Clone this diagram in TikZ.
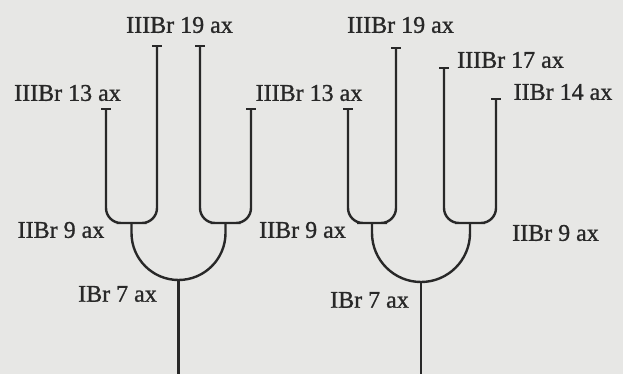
\documentclass[tikz,border=0pt]{standalone}
\usepackage{fontspec}
\setmainfont[FakeBold=1]{Liberation Serif}
\usetikzlibrary{arrows.meta}
\definecolor{paper}{RGB}{231,231,229}
\definecolor{ink}{RGB}{40,40,40}
\begin{document}
\begin{tikzpicture}[x=1pt,y=-1pt,
  branch/.style={draw=ink,line width=2.4pt,rounded corners=15pt,{Bar[width=10pt]}-{Bar[width=10pt]}},
  fork/.style={draw=ink,line width=2.4pt},
  stem/.style={draw=ink,line width=2.4pt},
  lab/.style={font=\fontsize{24}{28}\selectfont,text=ink,inner sep=0pt}]
\fill[paper] (0,0) rectangle (623,374);
\useasboundingbox (0,0) rectangle (623,374);
% left tree
\coordinate (a1) at (106,108);
\coordinate (a2) at (157,45);
\coordinate (a3) at (200,45);
\coordinate (a4) at (251,108);
\coordinate (b1) at (131.5,223);
\coordinate (b2) at (225.5,223);
\coordinate (j1) at (178.5,280);
\coordinate (r1) at (178.5,376);
\draw[branch] (a1) |- (b1) -| (a2);
\draw[branch] (a3) |- (b2) -| (a4);
\draw[fork] (b1) -- ++(0,10) arc[start angle=180, end angle=0, radius=47] -- (b2);
\draw[stem] (j1) -- (r1);
% right tree
\coordinate (c1) at (348,108);
\coordinate (c2) at (396,47);
\coordinate (c3) at (444,67);
\coordinate (c4) at (496,98);
\coordinate (d1) at (372,223);
\coordinate (d2) at (470,223);
\coordinate (j2) at (421,282);
\coordinate (r2) at (421,376);
\draw[branch] (c1) |- (d1) -| (c2);
\draw[branch] (c3) |- (d2) -| (c4);
\draw[fork] (d1) -- ++(0,10) arc[start angle=180, end angle=0, radius=49] -- (d2);
\draw[stem] (j2) -- (r2);
% labels
\node[lab] (l1) at (179.5,25) {IIIBr 19 ax};
\node[lab] (l2) at (67.5,93) {IIIBr 13 ax};
\node[lab] (l3) at (309,93) {IIIBr 13 ax};
\node[lab] (l4) at (61,230) {IIBr 9 ax};
\node[lab] (l5) at (302.5,230) {IIBr 9 ax};
\node[lab] (l6) at (117.5,294) {IBr 7 ax};
\node[lab] (l7) at (400.5,25) {IIIBr 19 ax};
\node[lab] (l8) at (510.5,60) {IIIBr 17 ax};
\node[lab] (l9) at (563,92) {IIBr 14 ax};
\node[lab] (l10) at (555.5,233) {IIBr 9 ax};
\node[lab] (l11) at (369.5,300) {IBr 7 ax};
\end{tikzpicture}
\end{document}
